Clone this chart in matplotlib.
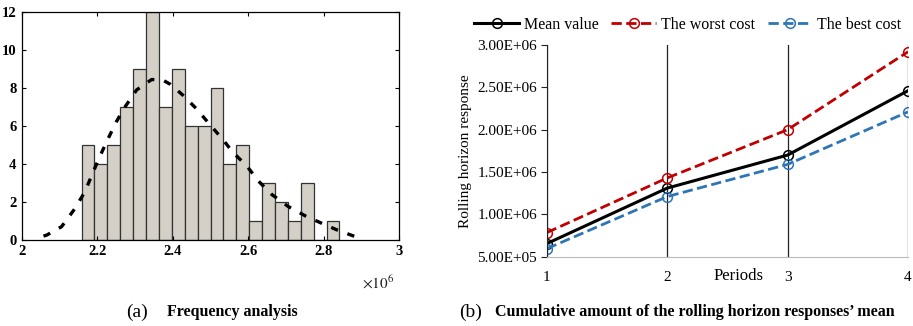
import matplotlib
matplotlib.use('Agg')
import matplotlib.pyplot as plt
import numpy as np

plt.rcParams['font.family'] = ['Liberation Serif', 'DejaVu Serif']
plt.rcParams['mathtext.fontset'] = 'stix'

# histogram (a)
bin_start = 2.158
bin_width = 0.0342
counts = [5, 4, 5, 7, 9, 12, 7, 9, 6, 6, 8, 4, 5, 1, 3, 2, 1, 3, 0, 1]
fit_x = [2.057, 2.066, 2.105, 2.141, 2.167, 2.202, 2.225, 2.251, 2.273, 2.304, 2.344,
         2.375, 2.393, 2.428, 2.463, 2.497, 2.530, 2.560, 2.596, 2.627, 2.662,
         2.706, 2.751, 2.790, 2.835, 2.883]
fit_y = [0.2, 0.26, 0.7, 1.67, 2.55, 4.2, 5.2, 6.25, 7.0, 7.9, 8.45,
         8.4, 8.2, 7.6, 6.9, 6.1, 5.35, 4.6, 3.9, 3.1, 2.4,
         1.76, 1.27, 0.92, 0.53, 0.18]

# line chart (b)
periods = [1, 2, 3, 4]
mean_value = [6.55e5, 1.31e6, 1.70e6, 2.46e6]
worst_cost = [7.85e5, 1.43e6, 2.00e6, 2.92e6]
best_cost = [5.95e5, 1.21e6, 1.59e6, 2.21e6]

fig = plt.figure(figsize=(9.13, 3.26), dpi=100)

ax1 = fig.add_axes([0.0241, 0.264, 0.413, 0.699])
lefts = bin_start + bin_width * np.arange(len(counts))
ax1.bar(lefts, counts, width=bin_width, align='edge', color='#d4d0c8',
        edgecolor='#333333', linewidth=0.9)
ax1.plot(fit_x, fit_y, color='black', linewidth=2.4, dashes=(2.2, 3.0))
ax1.set_xlim(2, 3)
ax1.set_ylim(0, 12)
ax1.set_xticks([2, 2.2, 2.4, 2.6, 2.8, 3])
ax1.set_xticklabels(['2', '2.2', '2.4', '2.6', '2.8', '3'])
ax1.set_yticks(range(0, 13, 2))
ax1.tick_params(direction='in', top=True, right=True, length=3, labelsize=10.5, pad=4)
for lbl in ax1.get_xticklabels() + ax1.get_yticklabels():
    lbl.set_fontweight('bold')
for s in ax1.spines.values():
    s.set_linewidth(0.9)
ax1.text(0.945, -0.19, r'$\times10^{6}$', transform=ax1.transAxes, fontsize=11,
         ha='center', va='center', color='#222222')

ax2 = fig.add_axes([0.599, 0.2126, 0.3955, 0.6494])
ax2.plot(periods, mean_value, color='black', linewidth=2.2, marker='o', ms=7,
         mfc='none', mec='black', mew=1.1, label='Mean value')
ax2.plot(periods, worst_cost, color='#c00000', linewidth=2, linestyle='--', marker='o',
         ms=7, mfc='none', mec='#c00000', mew=1.1, label='The worst cost')
ax2.plot(periods, best_cost, color='#2e75b6', linewidth=2, linestyle='--', marker='o',
         ms=7, mfc='none', mec='#2e75b6', mew=1.1, label='The best cost')
ax2.set_xlim(1, 4)
ax2.set_ylim(5e5, 3e6)
ax2.set_xticks(periods)
ax2.set_yticks(np.arange(5e5, 3.01e6, 5e5))
ax2.set_yticklabels(['5.00E+05', '1.00E+06', '1.50E+06', '2.00E+06', '2.50E+06', '3.00E+06'])
ax2.grid(axis='x', color='#222222', linewidth=0.9)
ax2.spines['top'].set_visible(False)
ax2.spines['right'].set_visible(False)
ax2.spines['left'].set_color('#222222')
ax2.spines['bottom'].set_color('#bbbbbb')
ax2.tick_params(length=0, labelsize=11, pad=10)
ax2.tick_params(axis='y', length=4, direction='out', color='#222222', pad=3)
ax2.set_ylabel('Rolling horizon response', fontsize=11)
ax2.text(0.53, -0.09, 'Periods', transform=ax2.transAxes, fontsize=12,
         ha='center', va='center')
ax2.legend(loc='lower center', bbox_to_anchor=(0.39, 1.02), ncol=3, frameon=False,
           fontsize=11.5, handlelength=2.8, columnspacing=0.8, handletextpad=0.3,
           borderaxespad=0.1)

fig.text(0.150, 0.043, '(a)', fontsize=14, ha='center', va='center')
fig.text(0.183, 0.043, 'Frequency analysis', fontsize=11.5, fontweight='bold',
         ha='left', va='center')
fig.text(0.515, 0.043, '(b)', fontsize=14, ha='center', va='center')
fig.text(0.542, 0.043, 'Cumulative amount of the rolling horizon responses\u2019 mean',
         fontsize=11.5, fontweight='bold', ha='left', va='center')

fig.savefig('out.png', dpi=100)
